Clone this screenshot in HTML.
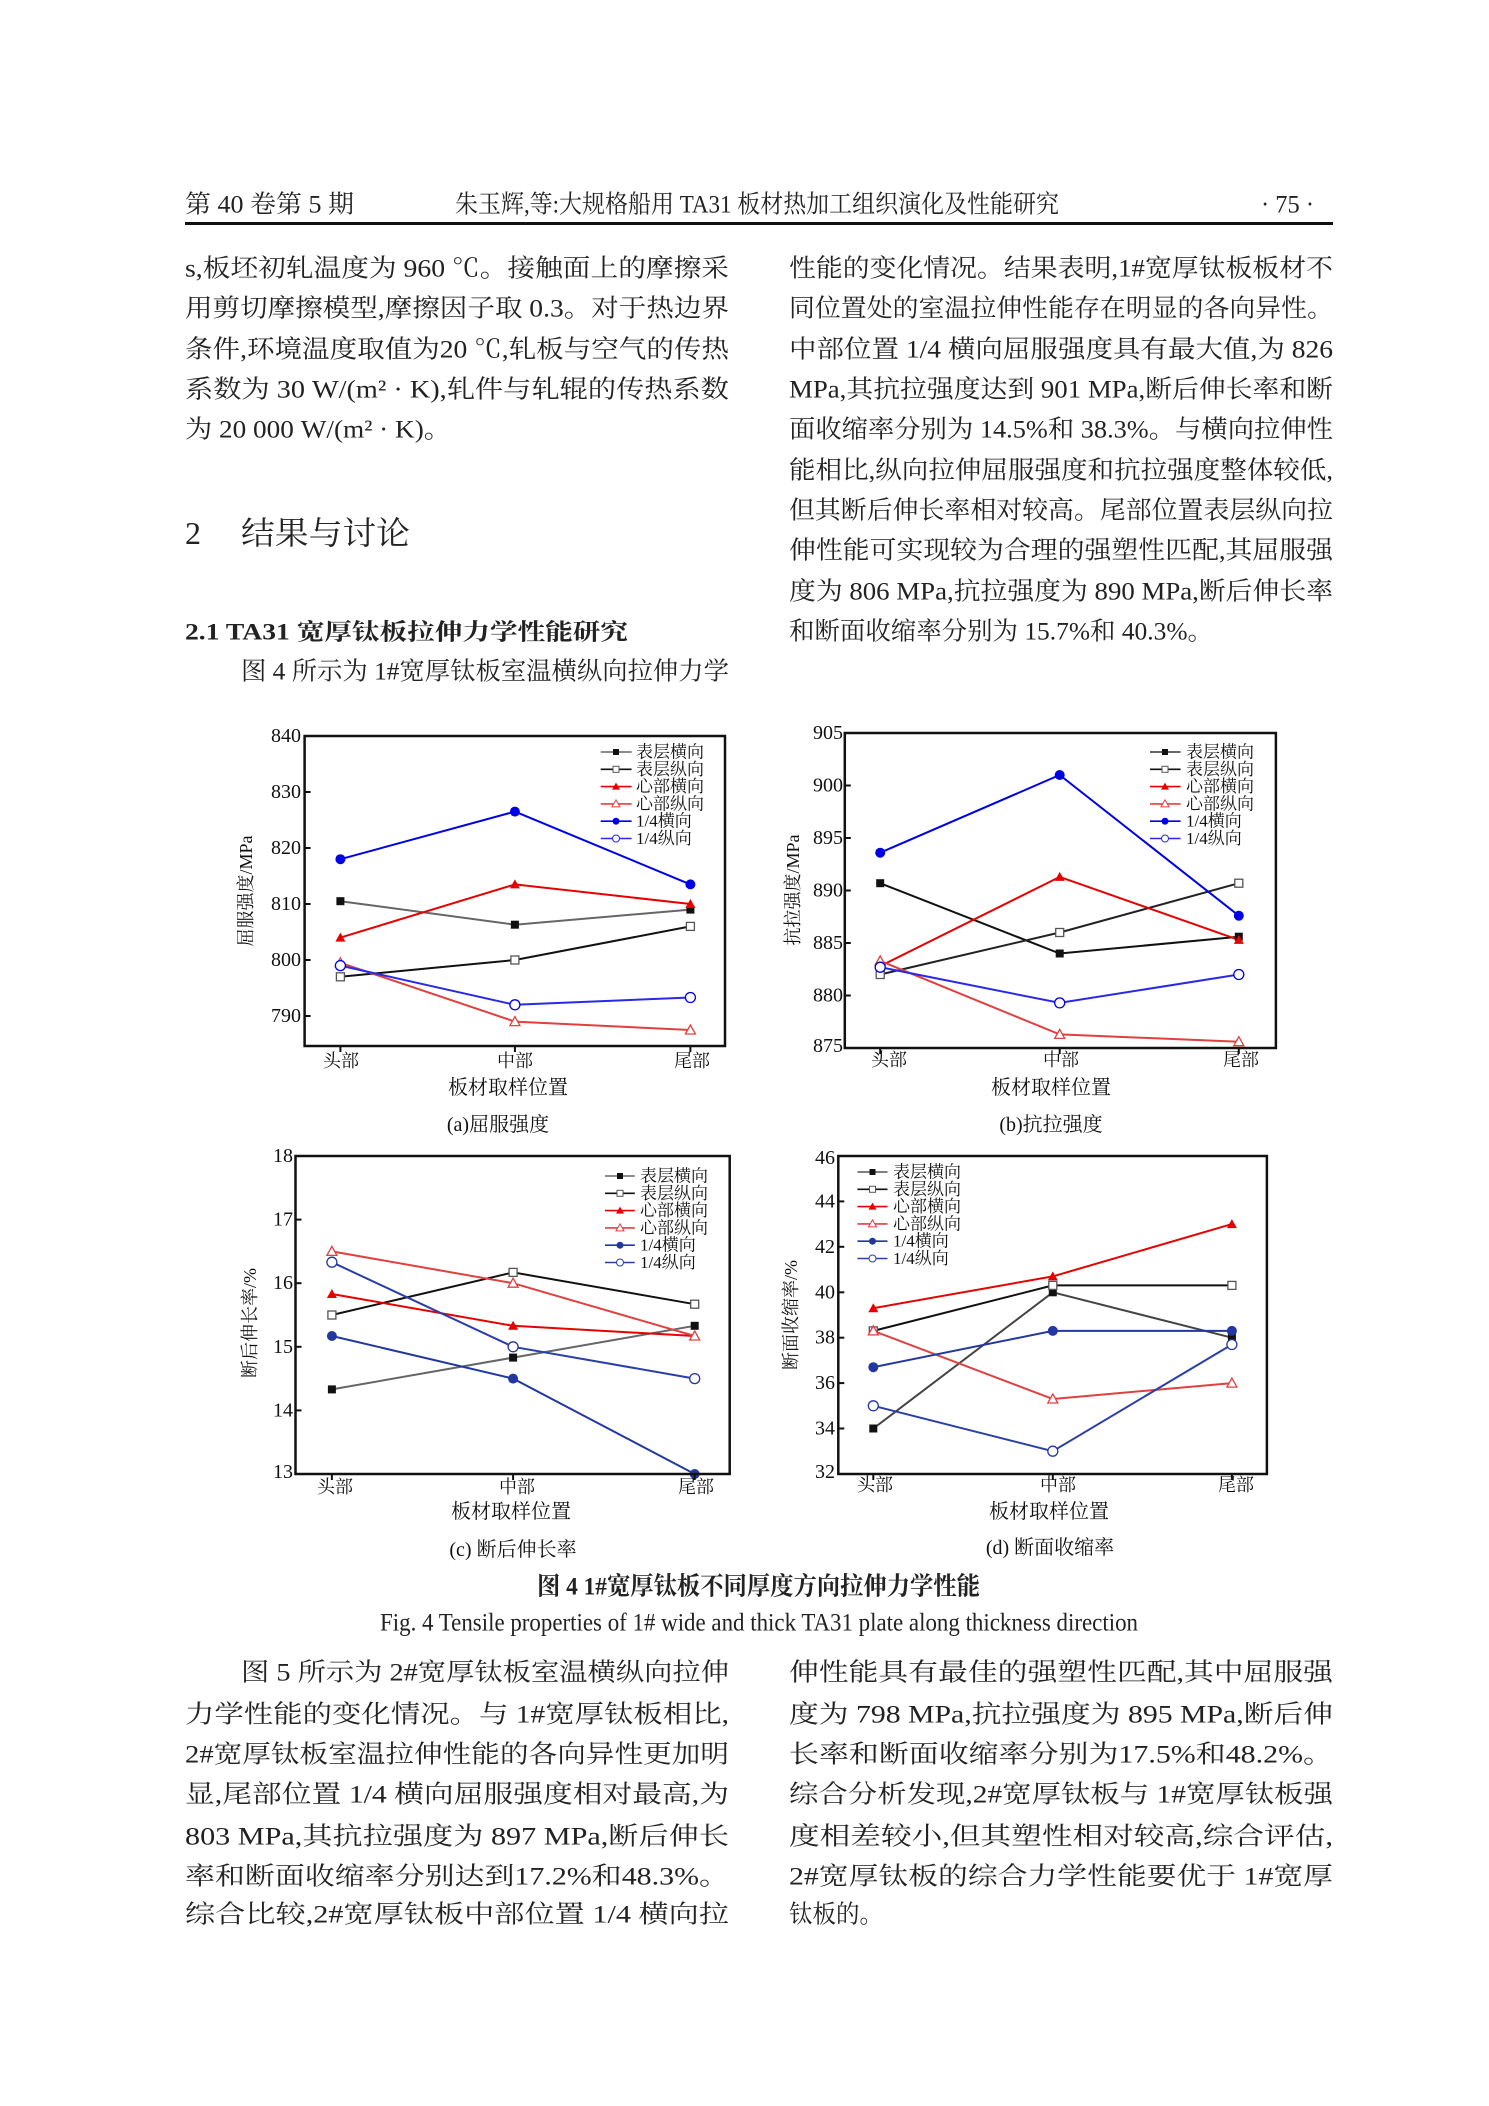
<!DOCTYPE html>
<html><head><meta charset="utf-8">
<style>
html,body{margin:0;padding:0;background:#fff;}
svg{display:block;}
.b{font-family:"Liberation Serif","Noto Serif CJK SC",serif;font-size:25px;fill:#222;}
.t{font-family:"Liberation Serif","Noto Serif CJK SC",serif;fill:#111;}
.lg{font-family:"Liberation Serif","Noto Serif CJK SC",serif;font-size:17px;fill:#111;}
.tk{font-family:"Liberation Serif",serif;font-size:20px;fill:#111;}
</style></head>
<body>
<svg width="1489" height="2106" viewBox="0 0 1489 2106" xmlns="http://www.w3.org/2000/svg">
<defs>
<symbol id="sqF" overflow="visible"><rect x="-4" y="-4" width="8" height="8" fill="#111"/></symbol>
<symbol id="sqO" overflow="visible"><rect x="-4" y="-4" width="8" height="8" fill="#fff" stroke="#555" stroke-width="1.3"/></symbol>
<symbol id="trF" overflow="visible"><path d="M0,-5 L5,4 L-5,4Z" fill="#e60000"/></symbol>
<symbol id="trO" overflow="visible"><path d="M0,-5 L5,4 L-5,4Z" fill="#fff" stroke="#e04040" stroke-width="1.3"/></symbol>
<symbol id="ciF" overflow="visible"><circle r="5" fill="currentColor"/></symbol>
<symbol id="ciO" overflow="visible"><circle r="5" fill="#fff" stroke="currentColor" stroke-width="1.3"/></symbol>
</defs>

<!-- Header -->
<text class="b" x="185" y="205" dominant-baseline="central" font-size="22" textLength="169" lengthAdjust="spacingAndGlyphs">第 40 卷第 5 期</text>
<text class="b" x="455" y="205" dominant-baseline="central" font-size="22" textLength="604" lengthAdjust="spacingAndGlyphs">朱玉辉,等:大规格船用 TA31 板材热加工组织演化及性能研究</text>
<text class="b" x="1261" y="205" dominant-baseline="central" font-size="22" textLength="53" lengthAdjust="spacingAndGlyphs">· 75 ·</text>
<rect x="185" y="222" width="1148" height="3" fill="#111"/>

<!-- Left column top -->
<g class="b" dominant-baseline="central">
<text x="185" y="269" textLength="544" lengthAdjust="spacingAndGlyphs">s,板坯初轧温度为 960 ℃。接触面上的摩擦采</text>
<text x="185" y="309" textLength="544" lengthAdjust="spacingAndGlyphs">用剪切摩擦模型,摩擦因子取 0.3。对于热边界</text>
<text x="185" y="350" textLength="544" lengthAdjust="spacingAndGlyphs">条件,环境温度取值为20 ℃,轧板与空气的传热</text>
<text x="185" y="390" textLength="544" lengthAdjust="spacingAndGlyphs">系数为 30 W/(m² · K),轧件与轧辊的传热系数</text>
<text x="185" y="430" textLength="266" lengthAdjust="spacingAndGlyphs">为 20 000 W/(m² · K)。</text>
<text x="185" y="533" font-size="32">2</text>
<text x="241" y="533" font-size="32" textLength="169" lengthAdjust="spacingAndGlyphs">结果与讨论</text>
<text x="185" y="632" font-size="23" font-weight="bold" textLength="443" lengthAdjust="spacingAndGlyphs">2.1   TA31 宽厚钛板拉伸力学性能研究</text>
<text x="241" y="672" textLength="488" lengthAdjust="spacingAndGlyphs">图 4 所示为 1#宽厚钛板室温横纵向拉伸力学</text>
</g>
<!-- Right column top -->
<g class="b" dominant-baseline="central">
<text x="789" y="269" textLength="544" lengthAdjust="spacingAndGlyphs">性能的变化情况。结果表明,1#宽厚钛板板材不</text>
<text x="789" y="309" textLength="544" lengthAdjust="spacingAndGlyphs">同位置处的室温拉伸性能存在明显的各向异性。</text>
<text x="789" y="350" textLength="544" lengthAdjust="spacingAndGlyphs">中部位置 1/4 横向屈服强度具有最大值,为 826</text>
<text x="789" y="390" textLength="544" lengthAdjust="spacingAndGlyphs">MPa,其抗拉强度达到 901 MPa,断后伸长率和断</text>
<text x="789" y="430" textLength="544" lengthAdjust="spacingAndGlyphs">面收缩率分别为 14.5%和 38.3%。与横向拉伸性</text>
<text x="789" y="471" textLength="544" lengthAdjust="spacingAndGlyphs">能相比,纵向拉伸屈服强度和抗拉强度整体较低,</text>
<text x="789" y="511" textLength="544" lengthAdjust="spacingAndGlyphs">但其断后伸长率相对较高。尾部位置表层纵向拉</text>
<text x="789" y="551" textLength="544" lengthAdjust="spacingAndGlyphs">伸性能可实现较为合理的强塑性匹配,其屈服强</text>
<text x="789" y="592" textLength="544" lengthAdjust="spacingAndGlyphs">度为 806 MPa,抗拉强度为 890 MPa,断后伸长率</text>
<text x="789" y="632" textLength="424" lengthAdjust="spacingAndGlyphs">和断面收缩率分别为 15.7%和 40.3%。</text>
</g>

<!-- ===== Chart (a) ===== -->
<g fill="none" stroke-width="2">
<polyline points="340.4,901.2 514.9,924.7 690.4,909.6" stroke="#666"/>
<polyline points="340.4,976.8 514.9,960 690.4,926.4" stroke="#111"/>
<polyline points="340.4,937.6 514.9,884.4 690.4,904" stroke="#e60000"/>
<polyline points="340.4,962.8 514.9,1021.6 690.4,1030" stroke="#e04040"/>
<polyline points="340.4,859.2 514.9,811.6 690.4,884.4" stroke="#0000e6"/>
<polyline points="340.4,965.6 514.9,1004.8 690.4,997.5" stroke="#2a2ae6"/>
</g>
<g style="color:#0000e6">
<use href="#sqF" x="340.4" y="901.2"/><use href="#sqF" x="514.9" y="924.7"/><use href="#sqF" x="690.4" y="909.6"/>
<use href="#sqO" x="340.4" y="976.8"/><use href="#sqO" x="514.9" y="960"/><use href="#sqO" x="690.4" y="926.4"/>
<use href="#trF" x="340.4" y="937.6"/><use href="#trF" x="514.9" y="884.4"/><use href="#trF" x="690.4" y="904"/>
<use href="#trO" x="340.4" y="962.8"/><use href="#trO" x="514.9" y="1021.6"/><use href="#trO" x="690.4" y="1030"/>
<use href="#ciF" x="340.4" y="859.2"/><use href="#ciF" x="514.9" y="811.6"/><use href="#ciF" x="690.4" y="884.4"/>
<use href="#ciO" x="340.4" y="965.6"/><use href="#ciO" x="514.9" y="1004.8"/><use href="#ciO" x="690.4" y="997.5"/>
</g>
<rect x="304.6" y="736" width="420.4" height="310" fill="none" stroke="#111" stroke-width="2.5"/>
<g stroke="#111" stroke-width="2">
<line x1="304.6" y1="792" x2="310.6" y2="792"/><line x1="304.6" y1="848" x2="310.6" y2="848"/><line x1="304.6" y1="904" x2="310.6" y2="904"/><line x1="304.6" y1="960" x2="310.6" y2="960"/><line x1="304.6" y1="1016" x2="310.6" y2="1016"/>
<line x1="340.4" y1="1046" x2="340.4" y2="1052"/><line x1="514.9" y1="1046" x2="514.9" y2="1052"/><line x1="690.4" y1="1046" x2="690.4" y2="1052"/>
</g>
<g class="tk" text-anchor="end" dominant-baseline="central">
<text x="301" y="736">840</text><text x="301" y="792">830</text><text x="301" y="848">820</text><text x="301" y="904">810</text><text x="301" y="960">800</text><text x="301" y="1016">790</text>
</g>
<text class="t" font-size="18" transform="translate(246,891) rotate(-90)" text-anchor="middle" dominant-baseline="central">屈服强度/MPa</text>
<g class="t" font-size="18" text-anchor="middle" dominant-baseline="central">
<text x="341" y="1061">头部</text><text x="515" y="1061">中部</text><text x="692" y="1061">尾部</text>
<text x="508" y="1088" font-size="20">板材取样位置</text>
<text x="498" y="1125" font-size="20">(a)屈服强度</text>
</g>
<g>
<line x1="600.7" y1="752" x2="631.6" y2="752" stroke="#666" stroke-width="1.6"/><rect x="613" y="749" width="6" height="6" fill="#111"/>
<line x1="600.7" y1="769.3" x2="631.6" y2="769.3" stroke="#111" stroke-width="1.6"/><rect x="613" y="766.3" width="6" height="6" fill="#fff" stroke="#555"/>
<line x1="600.7" y1="786.6" x2="631.6" y2="786.6" stroke="#e60000" stroke-width="1.6"/><path d="M616,782.6 L620,789.6 L612,789.6Z" fill="#e60000"/>
<line x1="600.7" y1="803.9" x2="631.6" y2="803.9" stroke="#e04040" stroke-width="1.6"/><path d="M616,799.9 L620,806.9 L612,806.9Z" fill="#fff" stroke="#e04040"/>
<line x1="600.7" y1="821.2" x2="631.6" y2="821.2" stroke="#0000e6" stroke-width="1.6"/><circle cx="616" cy="821.2" r="3.5" fill="#0000e6"/>
<line x1="600.7" y1="838.5" x2="631.6" y2="838.5" stroke="#2a2ae6" stroke-width="1.6"/><circle cx="616" cy="838.5" r="3.5" fill="#fff" stroke="#2a2ae6"/>
</g>
<g class="lg" dominant-baseline="central">
<text x="636" y="752">表层横向</text><text x="636" y="769.3">表层纵向</text><text x="636" y="786.6">心部横向</text><text x="636" y="803.9">心部纵向</text><text x="636" y="821.2">1/4横向</text><text x="636" y="838.5">1/4纵向</text>
</g>

<!-- ===== Chart (b) ===== -->
<g fill="none" stroke-width="2">
<polyline points="880.2,883.2 1059.7,953.5 1238.8,936.7" stroke="#111"/>
<polyline points="880.2,974.5 1059.7,932.5 1238.8,883.2" stroke="#222"/>
<polyline points="880.2,966.1 1059.7,876.9 1238.8,939.9" stroke="#e60000"/>
<polyline points="880.2,960.9 1059.7,1034.4 1238.8,1041.7" stroke="#e04040"/>
<polyline points="880.2,852.7 1059.7,775 1238.8,915.7" stroke="#0000e6"/>
<polyline points="880.2,967.2 1059.7,1002.9 1238.8,974.5" stroke="#2a2ae6"/>
</g>
<g style="color:#0000e6">
<use href="#sqF" x="880.2" y="883.2"/><use href="#sqF" x="1059.7" y="953.5"/><use href="#sqF" x="1238.8" y="936.7"/>
<use href="#sqO" x="880.2" y="974.5"/><use href="#sqO" x="1059.7" y="932.5"/><use href="#sqO" x="1238.8" y="883.2"/>
<use href="#trF" x="880.2" y="966.1"/><use href="#trF" x="1059.7" y="876.9"/><use href="#trF" x="1238.8" y="939.9"/>
<use href="#trO" x="880.2" y="960.9"/><use href="#trO" x="1059.7" y="1034.4"/><use href="#trO" x="1238.8" y="1041.7"/>
<use href="#ciF" x="880.2" y="852.7"/><use href="#ciF" x="1059.7" y="775"/><use href="#ciF" x="1238.8" y="915.7"/>
<use href="#ciO" x="880.2" y="967.2"/><use href="#ciO" x="1059.7" y="1002.9"/><use href="#ciO" x="1238.8" y="974.5"/>
</g>
<rect x="844.8" y="733" width="431.1" height="315" fill="none" stroke="#111" stroke-width="2.5"/>
<g stroke="#111" stroke-width="2">
<line x1="844.8" y1="785.5" x2="850.8" y2="785.5"/><line x1="844.8" y1="838" x2="850.8" y2="838"/><line x1="844.8" y1="890.5" x2="850.8" y2="890.5"/><line x1="844.8" y1="943" x2="850.8" y2="943"/><line x1="844.8" y1="995.5" x2="850.8" y2="995.5"/>
<line x1="880.2" y1="1048" x2="880.2" y2="1054"/><line x1="1059.7" y1="1048" x2="1059.7" y2="1054"/><line x1="1238.8" y1="1048" x2="1238.8" y2="1054"/>
</g>
<g class="tk" text-anchor="end" dominant-baseline="central">
<text x="843" y="733">905</text><text x="843" y="785.5">900</text><text x="843" y="838">895</text><text x="843" y="890.5">890</text><text x="843" y="943">885</text><text x="843" y="995.5">880</text><text x="843" y="1046">875</text>
</g>
<text class="t" font-size="18" transform="translate(793,890) rotate(-90)" text-anchor="middle" dominant-baseline="central">抗拉强度/MPa</text>
<g class="t" font-size="18" text-anchor="middle" dominant-baseline="central">
<text x="889" y="1060">头部</text><text x="1061" y="1060">中部</text><text x="1241" y="1060">尾部</text>
<text x="1051" y="1088" font-size="20">板材取样位置</text>
<text x="1051" y="1125" font-size="20">(b)抗拉强度</text>
</g>
<g>
<line x1="1150" y1="752" x2="1180.6" y2="752" stroke="#333" stroke-width="1.6"/><rect x="1162" y="749" width="6" height="6" fill="#111"/>
<line x1="1150" y1="769.3" x2="1180.6" y2="769.3" stroke="#111" stroke-width="1.6"/><rect x="1162" y="766.3" width="6" height="6" fill="#fff" stroke="#555"/>
<line x1="1150" y1="786.6" x2="1180.6" y2="786.6" stroke="#e60000" stroke-width="1.6"/><path d="M1165,782.6 L1169,789.6 L1161,789.6Z" fill="#e60000"/>
<line x1="1150" y1="803.9" x2="1180.6" y2="803.9" stroke="#e04040" stroke-width="1.6"/><path d="M1165,799.9 L1169,806.9 L1161,806.9Z" fill="#fff" stroke="#e04040"/>
<line x1="1150" y1="821.2" x2="1180.6" y2="821.2" stroke="#0000e6" stroke-width="1.6"/><circle cx="1165" cy="821.2" r="3.5" fill="#0000e6"/>
<line x1="1150" y1="838.5" x2="1180.6" y2="838.5" stroke="#2a2ae6" stroke-width="1.6"/><circle cx="1165" cy="838.5" r="3.5" fill="#fff" stroke="#2a2ae6"/>
</g>
<g class="lg" dominant-baseline="central">
<text x="1186" y="752">表层横向</text><text x="1186" y="769.3">表层纵向</text><text x="1186" y="786.6">心部横向</text><text x="1186" y="803.9">心部纵向</text><text x="1186" y="821.2">1/4横向</text><text x="1186" y="838.5">1/4纵向</text>
</g>

<!-- ===== Chart (c) ===== -->
<g fill="none" stroke-width="2">
<polyline points="331.9,1389.4 513.1,1357.6 694.7,1325.8" stroke="#666"/>
<polyline points="331.9,1315 513.1,1272.4 694.7,1304.2" stroke="#111"/>
<polyline points="331.9,1294 513.1,1325.8 694.7,1336" stroke="#e60000"/>
<polyline points="331.9,1251.4 513.1,1283.2 694.7,1336" stroke="#e04040"/>
<polyline points="331.9,1336 513.1,1378.6 694.7,1474" stroke="#2238a0"/>
<polyline points="331.9,1262.2 513.1,1346.8 694.7,1378.6" stroke="#2a3fa8"/>
</g>
<g style="color:#2238a0">
<use href="#sqF" x="331.9" y="1389.4"/><use href="#sqF" x="513.1" y="1357.6"/><use href="#sqF" x="694.7" y="1325.8"/>
<use href="#sqO" x="331.9" y="1315"/><use href="#sqO" x="513.1" y="1272.4"/><use href="#sqO" x="694.7" y="1304.2"/>
<use href="#trF" x="331.9" y="1294"/><use href="#trF" x="513.1" y="1325.8"/><use href="#trF" x="694.7" y="1336"/>
<use href="#trO" x="331.9" y="1251.4"/><use href="#trO" x="513.1" y="1283.2"/><use href="#trO" x="694.7" y="1336"/>
<use href="#ciF" x="331.9" y="1336"/><use href="#ciF" x="513.1" y="1378.6"/><use href="#ciF" x="694.7" y="1474"/>
<use href="#ciO" x="331.9" y="1262.2"/><use href="#ciO" x="513.1" y="1346.8"/><use href="#ciO" x="694.7" y="1378.6"/>
</g>
<rect x="295.5" y="1156" width="434.2" height="318" fill="none" stroke="#111" stroke-width="2.5"/>
<g stroke="#111" stroke-width="2">
<line x1="295.5" y1="1219.6" x2="301.5" y2="1219.6"/><line x1="295.5" y1="1283.2" x2="301.5" y2="1283.2"/><line x1="295.5" y1="1346.8" x2="301.5" y2="1346.8"/><line x1="295.5" y1="1410.4" x2="301.5" y2="1410.4"/>
<line x1="331.9" y1="1474" x2="331.9" y2="1480"/><line x1="513.1" y1="1474" x2="513.1" y2="1480"/><line x1="694.7" y1="1474" x2="694.7" y2="1480"/>
</g>
<g class="tk" text-anchor="end" dominant-baseline="central">
<text x="293" y="1156">18</text><text x="293" y="1219.6">17</text><text x="293" y="1283.2">16</text><text x="293" y="1346.8">15</text><text x="293" y="1410.4">14</text><text x="293" y="1472">13</text>
</g>
<text class="t" font-size="18" transform="translate(250,1323) rotate(-90)" text-anchor="middle" dominant-baseline="central">断后伸长率/%</text>
<g class="t" font-size="18" text-anchor="middle" dominant-baseline="central">
<text x="335" y="1487">头部</text><text x="517" y="1487">中部</text><text x="696" y="1487">尾部</text>
<text x="511" y="1512" font-size="20">板材取样位置</text>
<text x="513" y="1550" font-size="20">(c) 断后伸长率</text>
</g>
<g>
<line x1="605" y1="1176" x2="634.8" y2="1176" stroke="#666" stroke-width="1.6"/><rect x="617" y="1173" width="6" height="6" fill="#111"/>
<line x1="605" y1="1193.3" x2="634.8" y2="1193.3" stroke="#111" stroke-width="1.6"/><rect x="617" y="1190.3" width="6" height="6" fill="#fff" stroke="#555"/>
<line x1="605" y1="1210.6" x2="634.8" y2="1210.6" stroke="#e60000" stroke-width="1.6"/><path d="M620,1206.6 L624,1213.6 L616,1213.6Z" fill="#e60000"/>
<line x1="605" y1="1227.9" x2="634.8" y2="1227.9" stroke="#e04040" stroke-width="1.6"/><path d="M620,1223.9 L624,1230.9 L616,1230.9Z" fill="#fff" stroke="#e04040"/>
<line x1="605" y1="1245.2" x2="634.8" y2="1245.2" stroke="#2238a0" stroke-width="1.6"/><circle cx="620" cy="1245.2" r="3.5" fill="#2238a0"/>
<line x1="605" y1="1262.5" x2="634.8" y2="1262.5" stroke="#2a3fa8" stroke-width="1.6"/><circle cx="620" cy="1262.5" r="3.5" fill="#fff" stroke="#2a3fa8"/>
</g>
<g class="lg" dominant-baseline="central">
<text x="640" y="1176">表层横向</text><text x="640" y="1193.3">表层纵向</text><text x="640" y="1210.6">心部横向</text><text x="640" y="1227.9">心部纵向</text><text x="640" y="1245.2">1/4横向</text><text x="640" y="1262.5">1/4纵向</text>
</g>

<!-- ===== Chart (d) ===== -->
<g fill="none" stroke-width="2">
<polyline points="873.3,1428.5 1052.8,1292.3 1231.9,1337.7" stroke="#444"/>
<polyline points="873.3,1330.9 1052.8,1285.4 1231.9,1285.4" stroke="#111"/>
<polyline points="873.3,1308.2 1052.8,1276.4 1231.9,1224.1" stroke="#e60000"/>
<polyline points="873.3,1330.9 1052.8,1399 1231.9,1383.1" stroke="#e04040"/>
<polyline points="873.3,1367.2 1052.8,1330.9 1231.9,1330.9" stroke="#2238a0"/>
<polyline points="873.3,1405.8 1052.8,1451.2 1231.9,1344.5" stroke="#2a3fa8"/>
</g>
<g style="color:#2238a0">
<use href="#sqF" x="873.3" y="1428.5"/><use href="#sqF" x="1052.8" y="1292.3"/><use href="#sqF" x="1231.9" y="1337.7"/>
<use href="#sqO" x="873.3" y="1330.9"/><use href="#sqO" x="1052.8" y="1285.4"/><use href="#sqO" x="1231.9" y="1285.4"/>
<use href="#trF" x="873.3" y="1308.2"/><use href="#trF" x="1052.8" y="1276.4"/><use href="#trF" x="1231.9" y="1224.1"/>
<use href="#trO" x="873.3" y="1330.9"/><use href="#trO" x="1052.8" y="1399"/><use href="#trO" x="1231.9" y="1383.1"/>
<use href="#ciF" x="873.3" y="1367.2"/><use href="#ciF" x="1052.8" y="1330.9"/><use href="#ciF" x="1231.9" y="1330.9"/>
<use href="#ciO" x="873.3" y="1405.8"/><use href="#ciO" x="1052.8" y="1451.2"/><use href="#ciO" x="1231.9" y="1344.5"/>
</g>
<rect x="838.3" y="1156" width="428.6" height="318" fill="none" stroke="#111" stroke-width="2.5"/>
<g stroke="#111" stroke-width="2">
<line x1="838.3" y1="1201.4" x2="844.3" y2="1201.4"/><line x1="838.3" y1="1246.8" x2="844.3" y2="1246.8"/><line x1="838.3" y1="1292.3" x2="844.3" y2="1292.3"/><line x1="838.3" y1="1337.7" x2="844.3" y2="1337.7"/><line x1="838.3" y1="1383.1" x2="844.3" y2="1383.1"/><line x1="838.3" y1="1428.5" x2="844.3" y2="1428.5"/>
<line x1="873.3" y1="1474" x2="873.3" y2="1480"/><line x1="1052.8" y1="1474" x2="1052.8" y2="1480"/><line x1="1231.9" y1="1474" x2="1231.9" y2="1480"/>
</g>
<g class="tk" text-anchor="end" dominant-baseline="central">
<text x="835" y="1158">46</text><text x="835" y="1201.4">44</text><text x="835" y="1246.8">42</text><text x="835" y="1292.3">40</text><text x="835" y="1337.7">38</text><text x="835" y="1383.1">36</text><text x="835" y="1428.5">34</text><text x="835" y="1472">32</text>
</g>
<text class="t" font-size="18" transform="translate(791,1315) rotate(-90)" text-anchor="middle" dominant-baseline="central">断面收缩率/%</text>
<g class="t" font-size="18" text-anchor="middle" dominant-baseline="central">
<text x="875" y="1485">头部</text><text x="1058" y="1485">中部</text><text x="1236" y="1485">尾部</text>
<text x="1049" y="1512" font-size="20">板材取样位置</text>
<text x="1050" y="1548" font-size="20">(d) 断面收缩率</text>
</g>
<g>
<line x1="857.4" y1="1172" x2="887.5" y2="1172" stroke="#555" stroke-width="1.6"/><rect x="869.5" y="1169" width="6" height="6" fill="#111"/>
<line x1="857.4" y1="1189.3" x2="887.5" y2="1189.3" stroke="#111" stroke-width="1.6"/><rect x="869.5" y="1186.3" width="6" height="6" fill="#fff" stroke="#555"/>
<line x1="857.4" y1="1206.6" x2="887.5" y2="1206.6" stroke="#e60000" stroke-width="1.6"/><path d="M872.5,1202.6 L876.5,1209.6 L868.5,1209.6Z" fill="#e60000"/>
<line x1="857.4" y1="1223.9" x2="887.5" y2="1223.9" stroke="#e04040" stroke-width="1.6"/><path d="M872.5,1219.9 L876.5,1226.9 L868.5,1226.9Z" fill="#fff" stroke="#e04040"/>
<line x1="857.4" y1="1241.2" x2="887.5" y2="1241.2" stroke="#2238a0" stroke-width="1.6"/><circle cx="872.5" cy="1241.2" r="3.5" fill="#2238a0"/>
<line x1="857.4" y1="1258.5" x2="887.5" y2="1258.5" stroke="#2a3fa8" stroke-width="1.6"/><circle cx="872.5" cy="1258.5" r="3.5" fill="#fff" stroke="#2a3fa8"/>
</g>
<g class="lg" dominant-baseline="central">
<text x="893" y="1172">表层横向</text><text x="893" y="1189.3">表层纵向</text><text x="893" y="1206.6">心部横向</text><text x="893" y="1223.9">心部纵向</text><text x="893" y="1241.2">1/4横向</text><text x="893" y="1258.5">1/4纵向</text>
</g>

<!-- Figure captions -->
<text class="b" x="537" y="1587" dominant-baseline="central" font-size="21" font-weight="bold" textLength="443" lengthAdjust="spacingAndGlyphs">图 4   1#宽厚钛板不同厚度方向拉伸力学性能</text>
<text class="b" x="380" y="1623" dominant-baseline="central" font-size="20" textLength="758" lengthAdjust="spacingAndGlyphs">Fig. 4   Tensile properties of 1# wide and thick TA31 plate along thickness direction</text>

<!-- Bottom body -->
<g class="b" dominant-baseline="central">
<text x="241" y="1673" textLength="488" lengthAdjust="spacingAndGlyphs">图 5 所示为 2#宽厚钛板室温横纵向拉伸</text>
<text x="185" y="1715" textLength="544" lengthAdjust="spacingAndGlyphs">力学性能的变化情况。与 1#宽厚钛板相比,</text>
<text x="185" y="1755" textLength="544" lengthAdjust="spacingAndGlyphs">2#宽厚钛板室温拉伸性能的各向异性更加明</text>
<text x="185" y="1795" textLength="544" lengthAdjust="spacingAndGlyphs">显,尾部位置 1/4 横向屈服强度相对最高,为</text>
<text x="185" y="1837" textLength="544" lengthAdjust="spacingAndGlyphs">803 MPa,其抗拉强度为 897 MPa,断后伸长</text>
<text x="185" y="1877" textLength="544" lengthAdjust="spacingAndGlyphs">率和断面收缩率分别达到17.2%和48.3%。</text>
<text x="185" y="1915" textLength="544" lengthAdjust="spacingAndGlyphs">综合比较,2#宽厚钛板中部位置 1/4 横向拉</text>
<text x="789" y="1673" textLength="544" lengthAdjust="spacingAndGlyphs">伸性能具有最佳的强塑性匹配,其中屈服强</text>
<text x="789" y="1715" textLength="544" lengthAdjust="spacingAndGlyphs">度为 798 MPa,抗拉强度为 895 MPa,断后伸</text>
<text x="789" y="1755" textLength="544" lengthAdjust="spacingAndGlyphs">长率和断面收缩率分别为17.5%和48.2%。</text>
<text x="789" y="1795" textLength="544" lengthAdjust="spacingAndGlyphs">综合分析发现,2#宽厚钛板与 1#宽厚钛板强</text>
<text x="789" y="1837" textLength="544" lengthAdjust="spacingAndGlyphs">度相差较小,但其塑性相对较高,综合评估,</text>
<text x="789" y="1877" textLength="544" lengthAdjust="spacingAndGlyphs">2#宽厚钛板的综合力学性能要优于 1#宽厚</text>
<text x="789" y="1915" textLength="94" lengthAdjust="spacingAndGlyphs">钛板的。</text>
</g>
</svg>
</body></html>
